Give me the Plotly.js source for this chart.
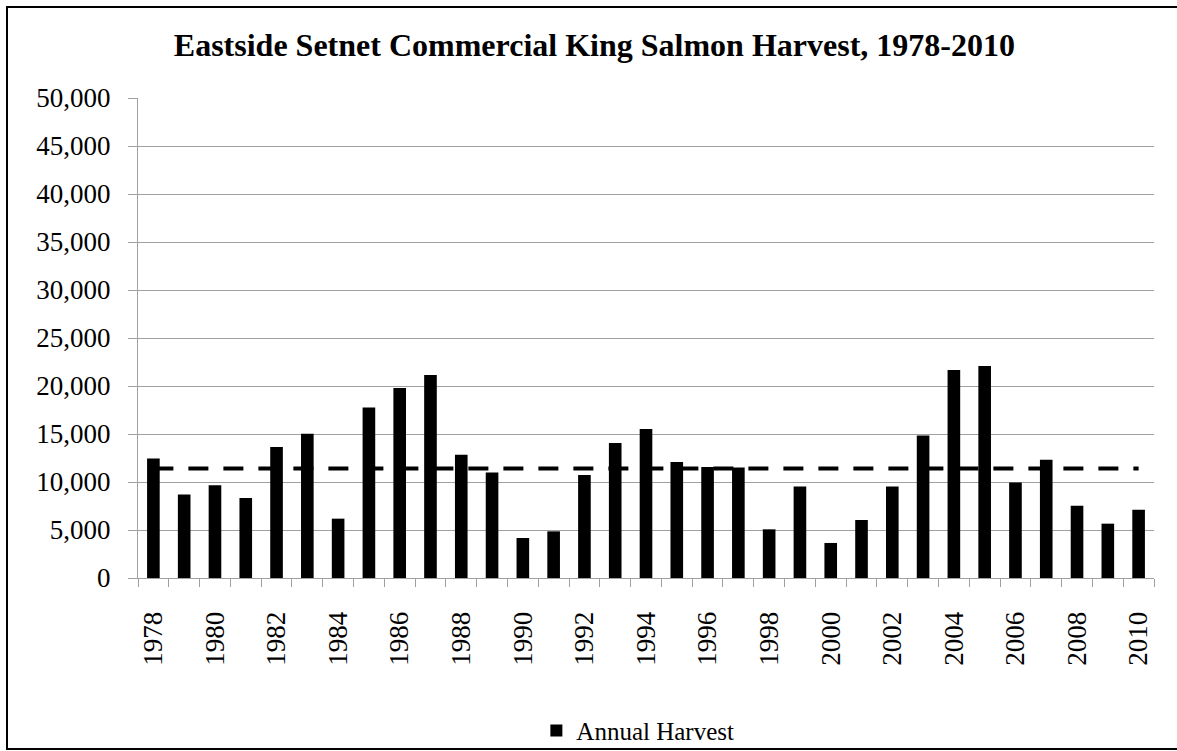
<!DOCTYPE html>
<html>
<head>
<meta charset="utf-8">
<script src="https://cdn.plot.ly/plotly-3.0.1.min.js"></script>
<style>
  html, body { margin: 0; padding: 0; overflow: hidden; background: #fff; }
  #plot { position: absolute; left: 0; top: 0; width: 1177px; height: 751px; }
  #frame { position: absolute; left: 6px; top: 6px; width: 1171px; height: 744px;
           border: 2px solid #000; border-right: none; box-sizing: border-box; pointer-events: none; }
</style>
</head>
<body>
<div id="plot"></div>
<div id="frame"></div>
<script>
// Years and harvest counts
const years = [
  1978, 1979, 1980, 1981, 1982, 1983, 1984, 1985, 1986, 1987, 1988,
  1989, 1990, 1991, 1992, 1993, 1994, 1995, 1996, 1997, 1998, 1999,
  2000, 2001, 2002, 2003, 2004, 2005, 2006, 2007, 2008, 2009, 2010
];
const harvest = [
  12450, 8700, 9650, 8330, 13650, 15030, 6180, 17770, 19790, 21150, 12840,
  11000, 4170, 4860, 10730, 14060, 15520, 12080, 11560, 11500, 5070, 9540,
  3650, 6040, 9540, 14850, 21670, 22080, 9960, 12320, 7530, 5660, 7110
];
// Dashed average line level
const averageHarvest = 11400;
// Labelled years on the x axis
const yearLabels = [1978, 1980, 1982, 1984, 1986, 1988, 1990, 1992, 1994,
  1996, 1998, 2000, 2002, 2004, 2006, 2008, 2010];

const serif = "Liberation Serif, Times New Roman, serif";

const barTrace = {
  x: years,
  y: harvest,
  type: "bar",
  name: "Annual Harvest",
  width: 0.41,
  marker: { color: "#000000", line: { width: 0 } },
  hoverinfo: "x+y",
};

const avgTrace = {
  x: [years[0], years[years.length - 1]],
  y: [averageHarvest, averageHarvest],
  type: "scatter",
  mode: "lines",
  showlegend: false,
  line: { color: "#000000", width: 4, dash: "20px,15px" },
  hoverinfo: "y",
};

const layout = {
  width: 1177,
  height: 751,
  paper_bgcolor: "rgba(0,0,0,0)",
  plot_bgcolor: "#ffffff",
  font: { family: serif, size: 27, color: "#000000" },
  margin: { l: 138, r: 23, t: 98, b: 173 },
  title: {
    text: "<b>Eastside Setnet Commercial King Salmon Harvest, 1978-2010</b>",
    font: { family: serif, size: 32, color: "#000000" },
    xref: "container",
    x: 0.505,
    xanchor: "center",
    yref: "container",
    y: 0.94,
    yanchor: "middle",
    automargin: false,
  },
  showlegend: true,
  legend: {
    orientation: "h",
    x: 0.492,
    xanchor: "center",
    yref: "container",
    y: 0.027,
    yanchor: "middle",
    font: { family: serif, size: 25, color: "#000000" },
  },
  xaxis: {
    range: [1977.5, 2010.5],
    tickvals: yearLabels,
    ticktext: yearLabels.map(String),
    tickangle: -90,
    ticks: "",
    ticklabelstandoff: 22,
    automargin: false,
    showgrid: false,
    zeroline: false,
    showline: true,
    linecolor: "#a0a0a0",
    linewidth: 1,
    tickfont: { family: serif, size: 27, color: "#000000" },
    minor: {
      tick0: 1977.5,
      dtick: 1,
      ticks: "outside",
      ticklen: 8,
      tickcolor: "#a0a0a0",
      tickwidth: 1,
      showgrid: false,
    },
  },
  yaxis: {
    range: [0, 50000],
    dtick: 5000,
    tickformat: ",d",
    ticks: "outside",
    ticklen: 9,
    tickcolor: "#a0a0a0",
    ticklabelstandoff: 12,
    automargin: false,
    showgrid: true,
    gridcolor: "#a0a0a0",
    gridwidth: 1,
    zeroline: false,
    showline: true,
    linecolor: "#a0a0a0",
    linewidth: 1,
    tickfont: { family: serif, size: 27, color: "#000000" },
  },
};

Plotly.newPlot("plot", [barTrace, avgTrace], layout, { displayModeBar: false, responsive: false });
</script>
</body>
</html>
